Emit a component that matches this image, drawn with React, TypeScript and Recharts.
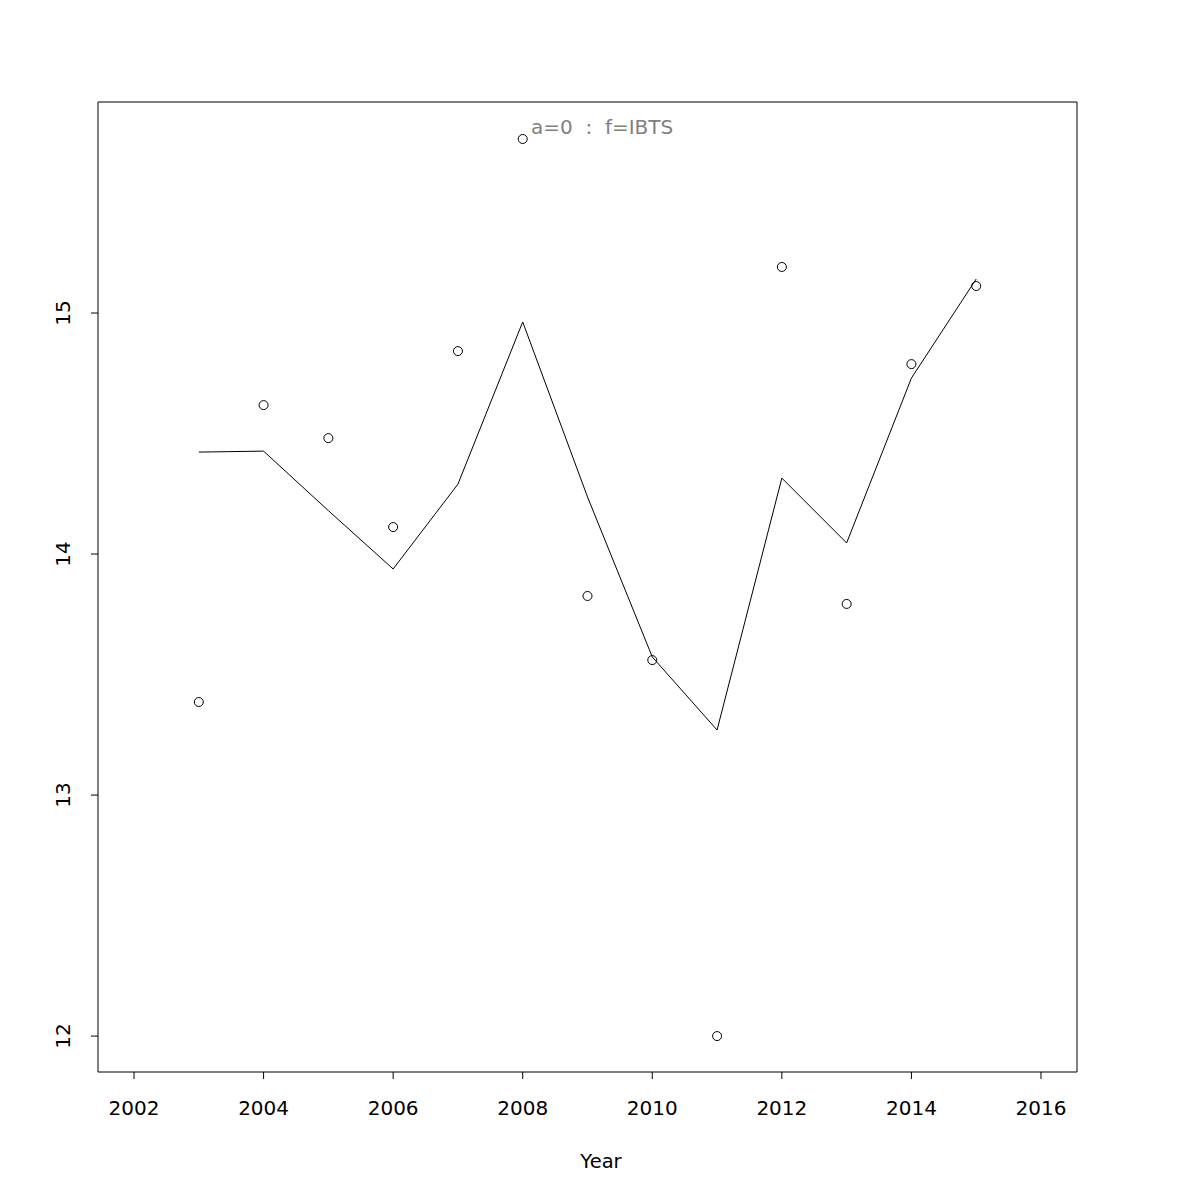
import React from 'react';
import {
  ComposedChart,
  Line,
  Scatter,
  XAxis,
  YAxis,
  ReferenceArea,
  Customized,
} from 'recharts';

const years = [2003, 2004, 2005, 2006, 2007, 2008, 2009, 2010, 2011, 2012, 2013, 2014, 2015];
const observed = [13.386, 14.618, 14.481, 14.112, 14.842, 15.722, 13.826, 13.56, 12.0, 15.191, 13.793, 14.788, 15.112];
const fitted = [14.423, 14.427, 14.18, 13.938, 14.29, 14.963, 14.237, 13.573, 13.27, 14.315, 14.046, 14.73, 15.141];
const xTicks = [2002, 2004, 2006, 2008, 2010, 2012, 2014, 2016];
const yTicks = [12, 13, 14, 15];
const xDomain: [number, number] = [2001.444, 2016.556];
const yDomain: [number, number] = [11.851, 15.8755];
const title = 'a=0  :  f=IBTS';
const xLabel = 'Year';

const data = years.map((year, i) => ({ year, obs: observed[i], fit: fitted[i] }));

const font = '"DejaVu Sans", sans-serif';

function YTick(props: any) {
  const { x, y, payload } = props;
  const bx = x - 19;
  return (
    <text
      x={bx}
      y={y}
      transform={`rotate(-90, ${bx}, ${y})`}
      textAnchor="middle"
      fontSize={20}
      fontFamily={font}
      fill="#000"
    >
      {payload.value}
    </text>
  );
}

function OpenCircle(props: any) {
  const { cx, cy } = props;
  if (cx == null || cy == null) return null;
  return <circle cx={cx} cy={cy} r={4.5} fill="none" stroke="#000" strokeWidth={1} />;
}

export default function App() {
  return (
    <div style={{ position: 'absolute', left: 0, top: 0, width: 1200, height: 1200, background: '#fff' }}>
      <ComposedChart
        width={1200}
        height={1200}
        data={data}
        margin={{ top: 102, right: 123, bottom: 0, left: 0 }}
      >
        <XAxis
          dataKey="year"
          type="number"
          domain={xDomain}
          ticks={xTicks}
          allowDataOverflow
          height={128}
          axisLine={false}
          tickSize={7}
          tickMargin={22}
          tickLine={{ stroke: '#000' }}
          tick={{ fontSize: 20, fontFamily: font, fill: '#000' }}
          interval={0}
        />
        <YAxis
          type="number"
          domain={yDomain}
          ticks={yTicks}
          allowDataOverflow
          width={98}
          axisLine={false}
          tickSize={7}
          tickLine={{ stroke: '#000' }}
          tick={<YTick />}
          interval={0}
        />
        <ReferenceArea
          x1={xDomain[0]}
          x2={xDomain[1]}
          y1={yDomain[0]}
          y2={yDomain[1]}
          fill="none"
          stroke="#000"
          strokeWidth={1}
        />
        <Line
          dataKey="fit"
          type="linear"
          stroke="#000"
          strokeWidth={1}
          dot={false}
          isAnimationActive={false}
        />
        <Scatter dataKey="obs" shape={<OpenCircle />} isAnimationActive={false} />
        <Customized
          component={() => (
            <g fontFamily={font}>
              <text x={531} y={134} fontSize={20} fill="#808080" style={{ whiteSpace: 'pre' }}>
                {title}
              </text>
              <text x={601} y={1168} fontSize={19.5} fill="#000" textAnchor="middle">
                {xLabel}
              </text>
            </g>
          )}
        />
      </ComposedChart>
    </div>
  );
}
